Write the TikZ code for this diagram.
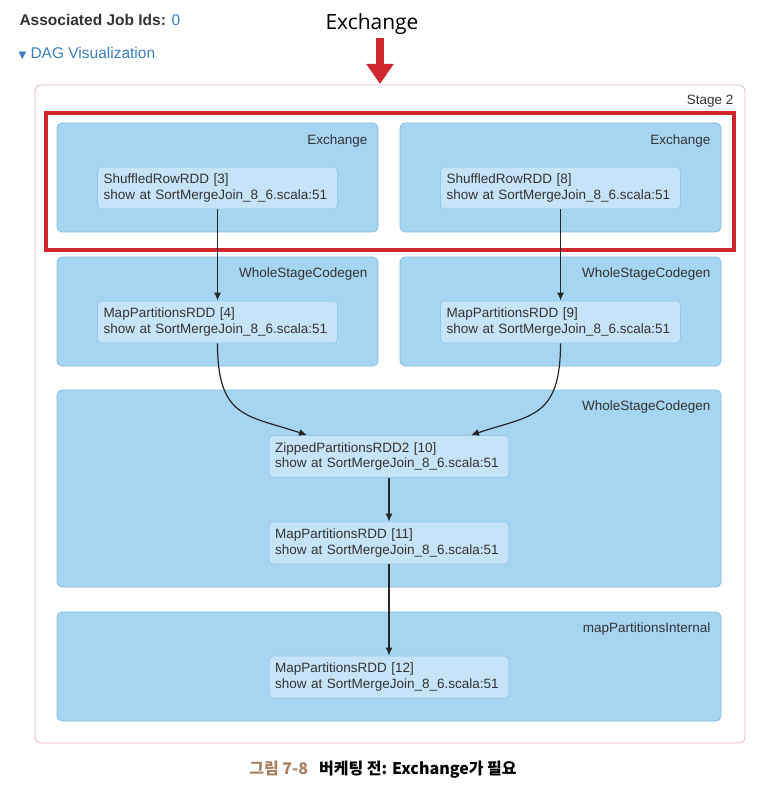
\documentclass[tikz,border=0pt]{standalone}
\usepackage{fontspec}
\setmainfont{Liberation Sans}
\newfontfamily\titlefont{Open Sans}
\newfontfamily\krfont{Noto Sans CJK KR}
\newfontfamily\symfont{DejaVu Sans}
\usetikzlibrary{arrows.meta}
\definecolor{grpfill}{HTML}{A6D5F2}
\definecolor{grpline}{HTML}{86BEE3}
\definecolor{rddfill}{HTML}{C5E4F7}
\definecolor{rddline}{HTML}{93C7EA}
\definecolor{txtgray}{HTML}{333333}
\definecolor{linkblue}{HTML}{3C7EBF}
\definecolor{stagepink}{HTML}{E6B3BD}
\definecolor{markred}{HTML}{D1262E}
\definecolor{capbrown}{HTML}{A77F62}

\begin{document}
\begin{tikzpicture}[x=1pt,y=-1pt,
  grp/.style={draw=grpline,fill=grpfill,rounded corners=5pt,line width=0.8pt},
  grplabel/.style={anchor=east,text=txtgray,font=\fontsize{13.5}{16}\selectfont},
  rdd/.style={draw=rddline,fill=rddfill,rounded corners=4pt,line width=0.8pt,
    minimum width=240pt,minimum height=42pt,text width=228pt,align=left,
    inner sep=0pt,text=txtgray,font=\fontsize{13.5}{15.5}\selectfont},
  flow/.style={-{Latex[length=8pt,width=7pt]},line width=1.2pt,black!85}]
\useasboundingbox (0,0) rectangle (765,799);

% header
\node[anchor=west,text=txtgray,font=\bfseries\fontsize{15.5}{18}\selectfont] (jobs) at (16,20)
  {Associated Job Ids: \textcolor{linkblue}{\mdseries 0}};
\node[anchor=west,text=linkblue,font=\fontsize{15.5}{18}\selectfont] (dag) at (15,54)
  {{\symfont\fontsize{10}{12}\selectfont ▼}\ DAG Visualization};
\node[text=black,font=\titlefont\fontsize{21}{24}\selectfont] (exch) at (372,24) {Exchange};
\coordinate (tip) at (380,84);

% stage
\draw[draw=stagepink,fill=white,rounded corners=6pt,line width=0.8pt] (35,85) rectangle (745,743);
\node[grplabel] (stage) at (737,101) {Stage 2};

% clusters
\draw[grp] (57,123) rectangle (378,232);
\draw[grp] (400,123) rectangle (721,232);
\draw[grp] (57,257) rectangle (378,366);
\draw[grp] (400,257) rectangle (721,366);
\draw[grp] (57,390) rectangle (721,587);
\draw[grp] (57,612) rectangle (721,721);
\node[grplabel] (lex1) at (371,141) {Exchange};
\node[grplabel] (lex2) at (714,141) {Exchange};
\node[grplabel] (lws1) at (371,274) {WholeStageCodegen};
\node[grplabel] (lws2) at (714,274) {WholeStageCodegen};
\node[grplabel] (lws3) at (714,407) {WholeStageCodegen};
\node[grplabel] (lmpi) at (714,629) {mapPartitionsInternal};

\draw[markred,line width=3.5pt] (46,113) rectangle (734,250);
\draw[markred,line width=8pt,-{Triangle[length=20pt,width=26pt]}] (tip |- exch.south) -- (tip);

% rdds
\node[rdd] (s3) at (217.5,188) {ShuffledRowRDD [3]\\show at SortMergeJoin\_8\_6.scala:51};
\node[rdd] (s8) at (560.5,188) {ShuffledRowRDD [8]\\show at SortMergeJoin\_8\_6.scala:51};
\node[rdd] (m4) at (217.5,322) {MapPartitionsRDD [4]\\show at SortMergeJoin\_8\_6.scala:51};
\node[rdd] (m9) at (560.5,322) {MapPartitionsRDD [9]\\show at SortMergeJoin\_8\_6.scala:51};
\node[rdd] (z10) at (389,456.5) {ZippedPartitionsRDD2 [10]\\show at SortMergeJoin\_8\_6.scala:51};
\node[rdd] (m11) at (389,543) {MapPartitionsRDD [11]\\show at SortMergeJoin\_8\_6.scala:51};
\node[rdd] (m12) at (389,677) {MapPartitionsRDD [12]\\show at SortMergeJoin\_8\_6.scala:51};

\draw[flow] (s3) -- (m4);
\draw[flow] (s8) -- (m9);
\draw[flow] (m4.south) .. controls +(0,75) and +(-60,-20) .. ([xshift=-82pt]z10.north);
\draw[flow] (m9.south) .. controls +(0,75) and +(60,-20) .. ([xshift=82pt]z10.north);
\draw[flow] (z10) -- (m11);
\draw[flow] (m11) -- (m12);

% caption
\node[font=\krfont\bfseries\fontsize{16}{19}\selectfont] (cap) at (383,770)
  {\textcolor{capbrown}{그림 7-8}\hspace{11pt}버케팅 전: Exchange가 필요};
\end{tikzpicture}
\end{document}
